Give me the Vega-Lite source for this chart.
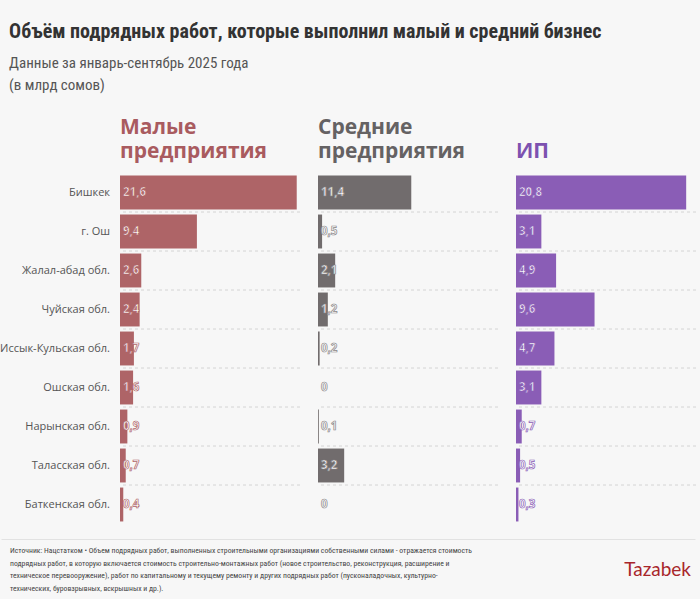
{
  "$schema": "https://vega.github.io/schema/vega-lite/v6.json",
  "background": "#f7f7f7",
  "padding": {"left": 0, "top": 22, "right": 4, "bottom": 4},
  "config": {
    "view": {"stroke": null},
    "locale": {"number": {"decimal": ",", "thousands": " ", "grouping": [3], "currency": ["", ""]}},
    "font": "Open Sans"
  },
  "title": {
    "text": "Объём подрядных работ, которые выполнил малый и средний бизнес",
    "subtitle": ["Данные за январь-сентябрь 2025 года", "(в млрд сомов)"],
    "anchor": "start",
    "dx": 9,
    "font": "Liberation Sans Narrow, Roboto Condensed, Roboto",
    "fontSize": 20,
    "fontWeight": "bold",
    "color": "#333333",
    "subtitleFont": "Liberation Sans Narrow, Roboto Condensed, Roboto",
    "subtitleFontSize": 15,
    "subtitleColor": "#555555",
    "subtitleLineHeight": 22,
    "subtitlePadding": 14,
    "offset": 24
  },
  "datasets": {
    "d": [
      {"region": "Бишкек", "type": "small", "v": 21.6},
      {"region": "г. Ош", "type": "small", "v": 9.4},
      {"region": "Жалал-абад обл.", "type": "small", "v": 2.6},
      {"region": "Чуйская обл.", "type": "small", "v": 2.4},
      {"region": "Иссык-Кульская обл.", "type": "small", "v": 1.7},
      {"region": "Ошская обл.", "type": "small", "v": 1.6},
      {"region": "Нарынская обл.", "type": "small", "v": 0.9},
      {"region": "Таласская обл.", "type": "small", "v": 0.7},
      {"region": "Баткенская обл.", "type": "small", "v": 0.4},
      {"region": "Бишкек", "type": "medium", "v": 11.4},
      {"region": "г. Ош", "type": "medium", "v": 0.5},
      {"region": "Жалал-абад обл.", "type": "medium", "v": 2.1},
      {"region": "Чуйская обл.", "type": "medium", "v": 1.2},
      {"region": "Иссык-Кульская обл.", "type": "medium", "v": 0.2},
      {"region": "Ошская обл.", "type": "medium", "v": 0},
      {"region": "Нарынская обл.", "type": "medium", "v": 0.1},
      {"region": "Таласская обл.", "type": "medium", "v": 3.2},
      {"region": "Баткенская обл.", "type": "medium", "v": 0},
      {"region": "Бишкек", "type": "ip", "v": 20.8},
      {"region": "г. Ош", "type": "ip", "v": 3.1},
      {"region": "Жалал-абад обл.", "type": "ip", "v": 4.9},
      {"region": "Чуйская обл.", "type": "ip", "v": 9.6},
      {"region": "Иссык-Кульская обл.", "type": "ip", "v": 4.7},
      {"region": "Ошская обл.", "type": "ip", "v": 3.1},
      {"region": "Нарынская обл.", "type": "ip", "v": 0.7},
      {"region": "Таласская обл.", "type": "ip", "v": 0.5},
      {"region": "Баткенская обл.", "type": "ip", "v": 0.3}
    ],
    "footer": [
      {"line": 1, "text": "Источник: Нацстатком • Объем подрядных работ, выполненных строительными организациями собственными силами - отражается стоимость"},
      {"line": 2, "text": "подрядных работ, в которую включается стоимость строительно-монтажных работ (новое строительство, реконструкция, расширение и"},
      {"line": 3, "text": "техническое перевооружение), работ по капитальному и текущему ремонту и других подрядных работ (пусконаладочных, культурно-"},
      {"line": 4, "text": "технических, буровзрывных, вскрышных и др.)."}
    ],
    "logo": [{"name": "Tazabek"}]
  },
  "spacing": 15,
  "vconcat": [
    {
      "hconcat": [
        {
          "hconcat": [
            {
              "width": 109,
              "height": 351,
              "data": {"name": "d"},
              "transform": [{"filter": "datum.type === 'small'"}],
              "mark": {"type": "text", "align": "right", "baseline": "middle", "font": "Open Sans", "fontSize": 11, "color": "#555555"},
              "encoding": {
                "y": {"field": "region", "type": "nominal", "sort": ["Бишкек", "г. Ош", "Жалал-абад обл.", "Чуйская обл.", "Иссык-Кульская обл.", "Ошская обл.", "Нарынская обл.", "Таласская обл.", "Баткенская обл."], "scale": {"paddingInner": 0, "paddingOuter": 0}, "axis": null},
                "x": {"datum": 1, "type": "quantitative", "scale": {"domain": [0, 1]}, "axis": null},
                "text": {"field": "region"}
              }
            },
            {
              "width": 180,
              "height": 351,
              "data": {"name": "d"},
              "transform": [{"filter": "datum.type === 'small'"}],
              "title": {"text": ["Малые", "предприятия"], "anchor": "start", "frame": "group", "color": "#a95b5f", "fontSize": 21, "font": "Open Sans", "fontWeight": "bold", "lineHeight": 24, "offset": 11},
              "layer": [
                {
                  "mark": {"type": "rule", "strokeDash": [3, 3], "color": "#d4d4d4", "strokeWidth": 1},
                  "transform": [{"filter": "datum.region !== 'Баткенская обл.'"}],
                  "encoding": {
                    "y": {"field": "region", "type": "nominal", "sort": ["Бишкек", "г. Ош", "Жалал-абад обл.", "Чуйская обл.", "Иссык-Кульская обл.", "Ошская обл.", "Нарынская обл.", "Таласская обл.", "Баткенская обл."], "bandPosition": 1, "scale": {"paddingInner": 0, "paddingOuter": 0}, "axis": null}
                  }
                },
                {
                  "mark": {"type": "bar", "height": {"band": 0.87}, "color": "#ae6467"},
                  "encoding": {
                    "y": {"field": "region", "type": "nominal", "sort": ["Бишкек", "г. Ош", "Жалал-абад обл.", "Чуйская обл.", "Иссык-Кульская обл.", "Ошская обл.", "Нарынская обл.", "Таласская обл.", "Баткенская обл."], "axis": null},
                    "x": {"field": "v", "type": "quantitative", "scale": {"domain": [0, 22]}, "axis": null}
                  }
                },
                {
                  "mark": {"type": "text", "align": "left", "dx": 3, "font": "Open Sans", "fontWeight": "bold", "fontSize": 11.5, "fill": "#ffffff", "stroke": "#ae6467", "strokeWidth": 0.7},
                  "encoding": {
                    "y": {"field": "region", "type": "nominal", "sort": ["Бишкек", "г. Ош", "Жалал-абад обл.", "Чуйская обл.", "Иссык-Кульская обл.", "Ошская обл.", "Нарынская обл.", "Таласская обл.", "Баткенская обл."], "axis": null},
                    "x": {"datum": 0, "type": "quantitative"},
                    "text": {"field": "v", "type": "quantitative", "format": ".1~f"}
                  }
                }
              ]
            }
          ],
          "spacing": 9
        },
        {
          "width": 180,
          "height": 351,
          "data": {"name": "d"},
          "transform": [{"filter": "datum.type === 'medium'"}],
          "title": {"text": ["Средние", "предприятия"], "anchor": "start", "frame": "group", "color": "#656263", "fontSize": 21, "font": "Open Sans", "fontWeight": "bold", "lineHeight": 24, "offset": 11},
          "layer": [
            {
              "mark": {"type": "rule", "strokeDash": [3, 3], "color": "#d4d4d4", "strokeWidth": 1},
              "transform": [{"filter": "datum.region !== 'Баткенская обл.'"}],
              "encoding": {
                "y": {"field": "region", "type": "nominal", "sort": ["Бишкек", "г. Ош", "Жалал-абад обл.", "Чуйская обл.", "Иссык-Кульская обл.", "Ошская обл.", "Нарынская обл.", "Таласская обл.", "Баткенская обл."], "bandPosition": 1, "scale": {"paddingInner": 0, "paddingOuter": 0}, "axis": null}
              }
            },
            {
              "mark": {"type": "bar", "height": {"band": 0.87}, "color": "#716c6d"},
              "encoding": {
                "y": {"field": "region", "type": "nominal", "sort": ["Бишкек", "г. Ош", "Жалал-абад обл.", "Чуйская обл.", "Иссык-Кульская обл.", "Ошская обл.", "Нарынская обл.", "Таласская обл.", "Баткенская обл."], "axis": null},
                "x": {"field": "v", "type": "quantitative", "scale": {"domain": [0, 22]}, "axis": null}
              }
            },
            {
              "mark": {"type": "text", "align": "left", "dx": 3, "font": "Open Sans", "fontWeight": "bold", "fontSize": 11.5, "fill": "#ffffff", "stroke": "#8a8687", "strokeWidth": 0.7},
              "encoding": {
                "y": {"field": "region", "type": "nominal", "sort": ["Бишкек", "г. Ош", "Жалал-абад обл.", "Чуйская обл.", "Иссык-Кульская обл.", "Ошская обл.", "Нарынская обл.", "Таласская обл.", "Баткенская обл."], "axis": null},
                "x": {"datum": 0, "type": "quantitative"},
                "text": {"field": "v", "type": "quantitative", "format": ".1~f"}
              }
            }
          ]
        },
        {
          "width": 180,
          "height": 351,
          "data": {"name": "d"},
          "transform": [{"filter": "datum.type === 'ip'"}],
          "title": {"text": "ИП", "anchor": "start", "frame": "group", "color": "#7d52b0", "fontSize": 21, "font": "Open Sans", "fontWeight": "bold", "lineHeight": 24, "offset": 11},
          "layer": [
            {
              "mark": {"type": "rule", "strokeDash": [3, 3], "color": "#d4d4d4", "strokeWidth": 1},
              "transform": [{"filter": "datum.region !== 'Баткенская обл.'"}],
              "encoding": {
                "y": {"field": "region", "type": "nominal", "sort": ["Бишкек", "г. Ош", "Жалал-абад обл.", "Чуйская обл.", "Иссык-Кульская обл.", "Ошская обл.", "Нарынская обл.", "Таласская обл.", "Баткенская обл."], "bandPosition": 1, "scale": {"paddingInner": 0, "paddingOuter": 0}, "axis": null}
              }
            },
            {
              "mark": {"type": "bar", "height": {"band": 0.87}, "color": "#8a5db6"},
              "encoding": {
                "y": {"field": "region", "type": "nominal", "sort": ["Бишкек", "г. Ош", "Жалал-абад обл.", "Чуйская обл.", "Иссык-Кульская обл.", "Ошская обл.", "Нарынская обл.", "Таласская обл.", "Баткенская обл."], "axis": null},
                "x": {"field": "v", "type": "quantitative", "scale": {"domain": [0, 22]}, "axis": null}
              }
            },
            {
              "mark": {"type": "text", "align": "left", "dx": 3, "font": "Open Sans", "fontWeight": "bold", "fontSize": 11.5, "fill": "#ffffff", "stroke": "#8a5db6", "strokeWidth": 0.7},
              "encoding": {
                "y": {"field": "region", "type": "nominal", "sort": ["Бишкек", "г. Ош", "Жалал-абад обл.", "Чуйская обл.", "Иссык-Кульская обл.", "Ошская обл.", "Нарынская обл.", "Таласская обл.", "Баткенская обл."], "axis": null},
                "x": {"datum": 0, "type": "quantitative"},
                "text": {"field": "v", "type": "quantitative", "format": ".1~f"}
              }
            }
          ]
        }
      ],
      "spacing": 16
    },
    {
      "width": 694,
      "height": 56,
      "layer": [
        {
          "data": {"name": "footer"},
          "mark": {"type": "text", "align": "left", "baseline": "middle", "font": "Liberation Sans Narrow, Roboto Condensed, Roboto", "fontSize": 7.7, "color": "#444444", "dx": 9},
          "encoding": {
            "x": {"datum": 0, "type": "quantitative", "scale": {"domain": [0, 1]}, "axis": {"orient": "top", "domain": true, "domainColor": "#e2e2e2", "ticks": false, "labels": false, "grid": false, "title": null}},
            "y": {"field": "line", "type": "quantitative", "scale": {"domain": [0.15, 4.1], "reverse": true}, "axis": null},
            "text": {"field": "text"}
          }
        },
        {
          "data": {"name": "logo"},
          "mark": {"type": "text", "align": "right", "baseline": "middle", "font": "Lato", "fontSize": 19, "color": "#a8262b", "dx": -4},
          "encoding": {
            "x": {"datum": 1, "type": "quantitative"},
            "y": {"datum": 2.5, "type": "quantitative"},
            "text": {"field": "name"}
          }
        }
      ]
    }
  ]
}
